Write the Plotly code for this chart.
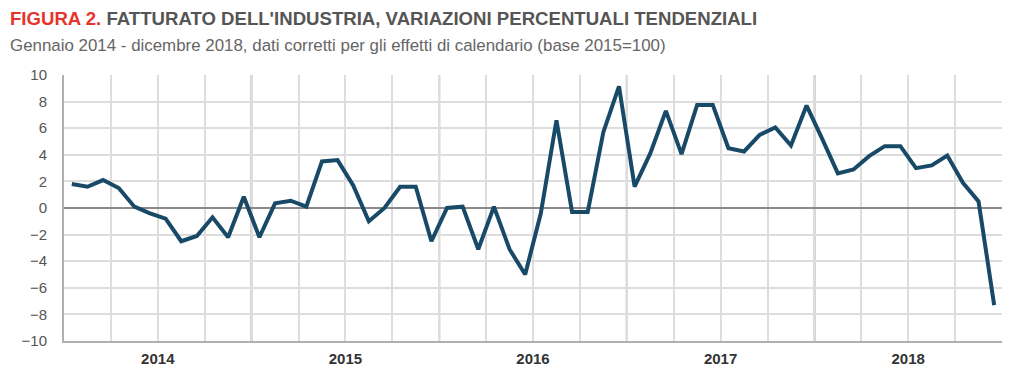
import plotly.graph_objects as go

years = ["2014", "2015", "2016", "2017", "2018"]
values = [
    1.8, 1.6, 2.1, 1.5, 0.1, -0.4, -0.8, -2.5, -2.1, -0.7, -2.2, 0.85,
    -2.2, 0.35, 0.55, 0.1, 3.5, 3.6, 1.7, -1.0, 0.0, 1.6, 1.6, -2.5,
    0.0, 0.1, -3.1, 0.1, -3.1, -5.0, -0.4, 6.6, -0.3, -0.3, 5.7, 9.15,
    1.6, 4.1, 7.3, 4.05, 7.75, 7.75, 4.5, 4.25, 5.5, 6.05, 4.7, 7.7,
    5.2, 2.6, 2.9, 3.9, 4.65, 4.65, 3.0, 3.2, 3.95, 1.9, 0.5, -7.3,
]
months = list(range(len(values)))

FONT = "Liberation Sans Narrow, Arial Narrow, Liberation Sans, Arial, sans-serif"
LINE_COLOR = "#184a67"

n = len(values)
tickvals = [i - 0.5 for i in range(0, n + 1, 3)]
ticktext = []
for tv in tickvals:
    k = tv + 0.5
    if (k - 6) % 12 == 0 and 0 <= (k - 6) // 12 < len(years):
        ticktext.append("<b>" + years[int((k - 6) // 12)] + "</b>")
    else:
        ticktext.append("")

fig = go.Figure()
fig.add_trace(go.Scatter(
    x=months, y=values, mode="lines",
    line=dict(color=LINE_COLOR, width=4),
    hoverinfo="skip",
))

shapes = []
for y_i in range(1, len(years)):
    xv = 12 * y_i - 0.5
    shapes.append(dict(type="line", xref="x", yref="paper", x0=xv, x1=xv, y0=0, y1=1,
                       line=dict(color="#9a9a9a", width=2), layer="below"))

fig.update_layout(
    width=1016, height=366,
    margin=dict(l=56, r=22, t=67, b=33),
    paper_bgcolor="white", plot_bgcolor="white",
    showlegend=False,
    font=dict(family=FONT, size=14, color="#555555"),
    shapes=shapes,
    xaxis=dict(
        range=[-0.5, n - 0.5], automargin=False,
        tickmode="array", tickvals=tickvals, ticktext=ticktext,
        showgrid=True, gridcolor="#dddddd", gridwidth=1.5,
        zeroline=False,
        showline=True, linecolor="#b0b0b0", linewidth=1.5,
        ticks="", tickfont=dict(family=FONT, size=15, color="#333333"),
        ticklabelstandoff=3,
    ),
    yaxis=dict(
        range=[-10, 10], dtick=2, tick0=0, automargin=False,
        showgrid=True, gridcolor="#dddddd", gridwidth=1.5,
        zeroline=True, zerolinecolor="#8a8a8a", zerolinewidth=2,
        showline=True, linecolor="#b0b0b0", linewidth=2,
        ticks="", tickfont=dict(family=FONT, size=15, color="#555555"),
        ticklabelstandoff=12,
    ),
    annotations=[
        dict(xref="paper", yref="paper", x=-0.0597, y=1.26, xanchor="left", yanchor="top",
             showarrow=False, align="left",
             text="<b><span style='color:#e8332a'>FIGURA 2.</span> FATTURATO DELL'INDUSTRIA, VARIAZIONI PERCENTUALI TENDENZIALI</b>",
             font=dict(family=FONT, size=18.6, color="#555555")),
        dict(xref="paper", yref="paper", x=-0.0597, y=1.155, xanchor="left", yanchor="top",
             showarrow=False, align="left",
             text="Gennaio 2014 - dicembre 2018, dati corretti per gli effetti di calendario (base 2015=100)",
             font=dict(family=FONT, size=16.9, color="#666666")),
    ],
)

fig.write_html("out.html")
